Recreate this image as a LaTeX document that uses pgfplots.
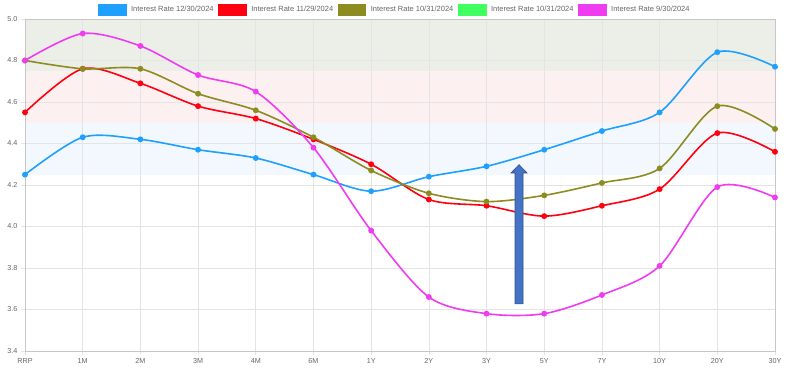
\documentclass[border=0pt]{standalone}
\usepackage{fontspec}
\setmainfont{Liberation Sans}
\usepackage{pgfplots}
\pgfplotsset{compat=1.18}
\definecolor{c1}{RGB}{30,160,255}
\definecolor{c2}{RGB}{255,0,16}
\definecolor{c3}{RGB}{140,140,32}
\definecolor{c4}{RGB}{64,255,96}
\definecolor{c5}{RGB}{240,60,240}
\definecolor{bandA}{RGB}{236,238,232}
\definecolor{bandB}{RGB}{253,240,240}
\definecolor{bandC}{RGB}{242,248,253}
\definecolor{gridc}{RGB}{228,228,228}
\definecolor{tickc}{RGB}{102,102,102}
\definecolor{arrowfill}{RGB}{68,114,196}
\definecolor{arrowdraw}{RGB}{47,82,143}
\begin{document}
\begin{tikzpicture}
\pgfplotsset{set layers}
\begin{axis}[
  at={(25pt,23pt)}, anchor=south west,
  scale only axis, width=750pt, height=332pt,
  xmin=0, xmax=13, ymin=3.4, ymax=5.0,
  xtick={0,...,13},
  xticklabels={RRP,1M,2M,3M,4M,6M,1Y,2Y,3Y,5Y,7Y,10Y,20Y,30Y},
  ytick={3.4,3.6,3.8,4.0,4.2,4.4,4.6,4.8,5.0},
  yticklabel style={/pgf/number format/.cd,fixed,fixed zerofill,precision=1},
  /pgf/number format/assume math mode=true,
  ticklabel style={font=\fontsize{7.2}{8}\selectfont, text=tickc},
  grid=major, major grid style={draw=gridc, line width=0.6pt},
  axis line style={draw=black!22, line width=0.7pt},
  tick pos=left, tick align=outside, major tick length=4pt,
  tick style={draw=gridc, line width=0.6pt},
  legend style={at={(0.4927,1)}, anchor=south, yshift=3pt, draw=none, fill=none,
    font=\fontsize{7.5}{9}\selectfont, text=tickc, legend columns=5,
    column sep=3pt, inner sep=0pt,
    /tikz/every even column/.append style={column sep=3pt},
    nodes={inner sep=1.5pt}},
  legend image code/.code={\fill[#1] (0pt,-5pt) rectangle (27pt,5pt);},
  every axis plot/.append style={line width=1.6pt, smooth, tension=0.5, mark=*, mark size=2.1pt},
]
\addplot[draw=none, fill=bandA, mark=none, on layer=axis background, forget plot, sharp plot] coordinates {(0,4.75)(13,4.75)(13,5.0)(0,5.0)} -- cycle;
\addplot[draw=none, fill=bandB, mark=none, on layer=axis background, forget plot, sharp plot] coordinates {(0,4.5)(13,4.5)(13,4.75)(0,4.75)} -- cycle;
\addplot[draw=none, fill=bandC, mark=none, on layer=axis background, forget plot, sharp plot] coordinates {(0,4.25)(13,4.25)(13,4.5)(0,4.5)} -- cycle;

\addplot[color=c1] coordinates {
 (0,4.25)(1,4.43)(2,4.42)(3,4.37)(4,4.33)(5,4.25)(6,4.17)(7,4.24)(8,4.29)(9,4.37)(10,4.46)(11,4.55)(12,4.84)(13,4.77)};
\addlegendentry{Interest Rate 12/30/2024}
\addplot[color=c2] coordinates {
 (0,4.55)(1,4.76)(2,4.69)(3,4.58)(4,4.52)(5,4.42)(6,4.30)(7,4.13)(8,4.10)(9,4.05)(10,4.10)(11,4.18)(12,4.45)(13,4.36)};
\addlegendentry{Interest Rate 11/29/2024}
\addplot[color=c3] coordinates {
 (0,4.80)(1,4.76)(2,4.76)(3,4.64)(4,4.56)(5,4.43)(6,4.27)(7,4.16)(8,4.12)(9,4.15)(10,4.21)(11,4.28)(12,4.58)(13,4.47)};
\addlegendentry{Interest Rate 10/31/2024}
\addlegendimage{color=c4}
\addlegendentry{Interest Rate 10/31/2024}
\addplot[color=c5] coordinates {
 (0,4.80)(1,4.93)(2,4.87)(3,4.73)(4,4.65)(5,4.38)(6,3.98)(7,3.66)(8,3.58)(9,3.58)(10,3.67)(11,3.81)(12,4.19)(13,4.14)};
\addlegendentry{Interest Rate 9/30/2024}

\fill[arrowfill, draw=arrowdraw, line width=0.6pt]
 ([xshift=-4pt]axis cs:8.563,3.627) -- ([xshift=-4pt]axis cs:8.563,4.258)
 -- ([xshift=-8pt]axis cs:8.563,4.258) -- (axis cs:8.563,4.298)
 -- ([xshift=8pt]axis cs:8.563,4.258) -- ([xshift=4pt]axis cs:8.563,4.258)
 -- ([xshift=4pt]axis cs:8.563,3.627) -- cycle;
\end{axis}
\pgfresetboundingbox
\path (0,0) rectangle (789pt,374pt);
\end{tikzpicture}
\end{document}
